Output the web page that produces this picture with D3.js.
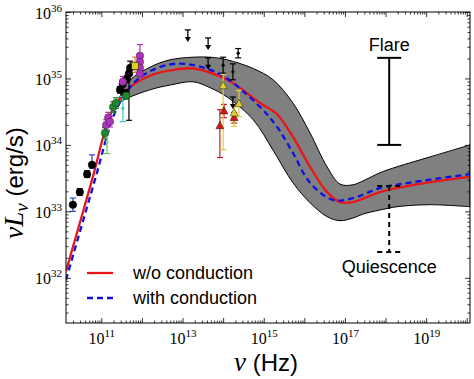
<!DOCTYPE html>
<html><head><meta charset="utf-8">
<script src="https://cdn.jsdelivr.net/npm/d3@7"></script>
<style>body{margin:0;background:#fff}svg{display:block}</style>
</head><body><svg id="c" width="474" height="379"></svg>
<script>
// ---- data (log10 values) ----
const redLogNu  = [10.13, 10.77, 11.21, 11.46, 11.71, 12.20, 12.69, 13.26, 14.10, 14.91, 15.33, 15.72, 16.14, 16.56, 16.88, 17.20, 17.86, 18.28, 19.10, 20.08];
const redLogL   = [32.10, 33.47, 34.44, 34.70, 34.87, 35.04, 35.12, 35.15, 34.98, 34.63, 34.46, 34.12, 33.67, 33.29, 33.14, 33.14, 33.29, 33.35, 33.44, 33.52];
const blueLogNu = [10.13, 10.84, 11.29, 11.53, 11.83, 12.20, 12.69, 13.06, 13.68, 14.10, 14.91, 15.33, 15.72, 16.14, 16.71, 17.20, 17.86, 18.68, 20.08];
const blueLogL  = [31.97, 33.47, 34.42, 34.71, 34.95, 35.11, 35.21, 35.22, 35.13, 35.00, 34.57, 34.27, 33.88, 33.43, 33.17, 33.20, 33.35, 33.44, 33.56];
const bandLogNu = [11.40, 11.63, 12.20, 12.69, 13.26, 13.68, 14.10, 14.74, 15.23, 15.72, 16.14, 16.56, 16.88, 17.20, 17.45, 17.86, 18.28, 19.10, 20.08];
const bandUpper = [34.62, 34.93, 35.17, 35.28, 35.32, 35.32, 35.28, 35.15, 34.98, 34.63, 34.18, 33.67, 33.41, 33.40, 33.46, 33.58, 33.67, 33.82, 34.00];
const bandLower = [34.62, 34.70, 34.83, 34.90, 34.95, 34.86, 34.72, 34.38, 33.92, 33.43, 33.13, 32.92, 32.86, 32.90, 32.96, 33.02, 33.07, 33.10, 33.07];

// observed points: log nu, log L, +err, -err (dex), colour, errorbar colour, shape
const ptLogNu = [10.30, 10.47, 10.65, 10.77, 11.46, 11.53, 11.58, 11.63, 11.68, 11.71,
                 11.12, 11.17, 11.21, 11.53, 11.95, 11.95, 11.95, 11.95,
                 11.09, 11.29, 11.36, 11.61,
                 11.14, 11.53, 11.83,
                 14.00, 14.24, 14.37,
                 13.92, 14.02, 14.27,
                 14.00, 14.27, 14.39];
const ptLogL  = [33.10, 33.29, 33.56, 33.70, 34.83, 34.92, 34.78, 34.99, 35.07, 35.16,
                 34.30, 34.41, 34.35, 34.95, 35.34, 35.25, 35.16, 35.07,
                 34.18, 34.57, 34.63, 34.74,
                 34.05, 34.55, 35.19,
                 35.20, 35.10, 35.38,
                 34.29, 34.51, 34.41,
                 34.89, 34.48, 34.62];
const ptErrUp = [0.10, 0.05, 0.05, 0.15, 0.05, 0.05, 0.05, 0.05, 0.05, 0.10,
                 0.08, 0.08, 0.08, 0.08, 0.17, 0.05, 0.05, 0.05,
                 0.08, 0.08, 0.08, 0.05,
                 0.15, 0.18, 0.13,
                 0.12, 0.12, 0.07,
                 0.24, 0.10, 0.08,
                 0.17, 0.10, 0.20];
const ptErrDn = [0.10, 0.05, 0.05, 0.05, 0.05, 0.05, 0.05, 0.05, 0.70, 0.10,
                 0.08, 0.08, 0.08, 0.08, 0.05, 0.05, 0.05, 0.05,
                 0.08, 0.08, 0.08, 0.05,
                 0.18, 0.20, 0.10,
                 0.12, 0.12, 0.07,
                 0.48, 0.10, 0.08,
                 0.96, 0.20, 0.20];
const ptColor = ["#000","#000","#000","#000","#000","#000","#000","#000","#000","#000",
                 "#b030c0","#b030c0","#b030c0","#b030c0","#b030c0","#b030c0","#b030c0","#b030c0",
                 "#1a8a2a","#1a8a2a","#1a8a2a","#1a8a2a",
                 "#7ccf7c","#40c8c0","#d8d020",
                 "#000","#000","#000",
                 "#d01818","#d01818","#d01818",
                 "#e0d030","#e0d030","#e0d030"];
const ptErrColor = ["#3040d0","#000","#000","#3040d0","#000","#000","#000","#000","#000","#000",
                 "#b030c0","#b030c0","#b030c0","#b030c0","#b030c0","#b030c0","#b030c0","#b030c0",
                 "#1a8a2a","#1a8a2a","#1a8a2a","#1a8a2a",
                 "#60c060","#40c8c0","#e08020",
                 "#000","#000","#000",
                 "#d01818","#d01818","#d01818",
                 "#d8d040","#d8d040","#d8d040"];
const ptShape = ["c","c","c","c","c","c","c","c","c","c",
                 "c","c","c","c","c","c","c","c",
                 "c","c","c","c",
                 "d","d","s",
                 "d","d","d",
                 "t","t","t",
                 "t","t","t"];
// upper limits
const ulLogNu = [13.13, 13.63, 13.63, 14.24];
const ulLogL  = [35.73, 35.61, 35.31, 34.72];

// variability bars
const barLogNu = 18.09;
const flareRange = [34.00, 35.31];
const quiesRange = [32.39, 33.38];

const xMajor = [11,12,13,14,15,16,17,18,19,20];
const xLabels = [11,13,15,17,19];
const yMajor = [32,33,34,35,36];
const yLabels = [32,33,34,35,36];
const legendLabels = ["w/o conduction", "with conduction"];

// ---- chart ----
const P = v => Math.pow(10, v);
const L = 66, R = 470, T = 12, B = 323;
const x = d3.scaleLog().domain([P(10.13), P(20.08)]).range([L, R]);
const y = d3.scaleLog().domain([P(31.32), P(36)]).range([B, T]);
const svg = d3.select("#c");

svg.append("clipPath").attr("id","pc").append("rect")
  .attr("x",L).attr("y",T).attr("width",R-L).attr("height",B-T);
const g = svg.append("g").attr("clip-path","url(#pc)");

const crv = d3.curveCatmullRom.alpha(0.5);
// band
const band = d3.area().x((d,i)=>x(P(bandLogNu[i]))).y0((d,i)=>y(P(bandLower[i]))).y1((d,i)=>y(P(bandUpper[i]))).curve(crv);
g.append("path").datum(bandLogNu).attr("d", band).attr("fill","#808080").attr("stroke","#000").attr("stroke-width",1);

// curves
const line = (xs, ys) => d3.line().x((d,i)=>x(P(xs[i]))).y((d,i)=>y(P(ys[i]))).curve(crv)(xs);
g.append("path").attr("d", line(redLogNu, redLogL)).attr("fill","none").attr("stroke","#e8161b").attr("stroke-width",2.3);
g.append("path").attr("d", line(blueLogNu, blueLogL)).attr("fill","none").attr("stroke","#1010e0").attr("stroke-width",2.3).attr("stroke-dasharray","6,4");

// points
const pts = ptLogNu.map((v,i)=>({nu:P(v), l:P(ptLogL[i]), up:P(ptLogL[i]+ptErrUp[i]), dn:P(ptLogL[i]-ptErrDn[i]), c:ptColor[i], ec:ptErrColor[i], s:ptShape[i]}));
const pg = g.append("g");
pts.forEach(p=>{
  const px = x(p.nu), yu = y(p.up), yd = y(p.dn);
  pg.append("line").attr("x1",px).attr("x2",px).attr("y1",yu).attr("y2",yd).attr("stroke",p.ec).attr("stroke-width",1.2);
  [yu,yd].forEach(yy=>pg.append("line").attr("x1",px-3).attr("x2",px+3).attr("y1",yy).attr("y2",yy).attr("stroke",p.ec).attr("stroke-width",1.2));
});
pts.forEach(p=>{
  const px = x(p.nu), py = y(p.l);
  if (p.s==="c") pg.append("circle").attr("cx",px).attr("cy",py).attr("r",3.8).attr("fill",p.c).attr("stroke",p.c==="#000"?"#000":"#333").attr("stroke-width",0.5);
  else if (p.s==="s") pg.append("rect").attr("x",px-3.5).attr("y",py-3.5).attr("width",7).attr("height",7).attr("fill",p.c).attr("stroke","#000").attr("stroke-width",0.5);
  else if (p.s==="t") pg.append("path").attr("d",`M${px},${py-4.5}L${px+4},${py+3}L${px-4},${py+3}Z`).attr("fill",p.c).attr("stroke","#000").attr("stroke-width",0.4);
  else pg.append("circle").attr("cx",px).attr("cy",py).attr("r",1.6).attr("fill",p.c);
});
// upper limits
ulLogNu.forEach((v,i)=>{
  const px = x(P(v)), py = y(P(ulLogL[i]));
  pg.append("line").attr("x1",px-3).attr("x2",px+3).attr("y1",py).attr("y2",py).attr("stroke","#000").attr("stroke-width",1.3);
  pg.append("line").attr("x1",px).attr("x2",px).attr("y1",py).attr("y2",py+9).attr("stroke","#000").attr("stroke-width",1.3);
  pg.append("path").attr("d",`M${px-3},${py+7}L${px+3},${py+7}L${px},${py+12}Z`).attr("fill","#000");
});

// flare / quiescence bars
const bx = x(P(barLogNu));
function vbar(r, dash){
  const y1 = y(P(r[1])), y0 = y(P(r[0]));
  const l1 = svg.append("line").attr("x1",bx).attr("x2",bx).attr("y1",y1).attr("y2",y0);
  const c1 = svg.append("line").attr("x1",bx-12).attr("x2",bx+12).attr("y1",y1).attr("y2",y1);
  const c2 = svg.append("line").attr("x1",bx-12).attr("x2",bx+12).attr("y1",y0).attr("y2",y0);
  [l1,c1,c2].forEach(s=>{s.attr("stroke","#000").attr("stroke-width",2); if(dash) s.attr("stroke-dasharray","5,4");});
}
vbar(flareRange,false);
vbar(quiesRange,true);
const sans = "Liberation Sans, Arial, sans-serif";
svg.append("text").attr("x",bx).attr("y",y(P(flareRange[1]))-7).attr("text-anchor","middle")
  .attr("font-family",sans).attr("font-size",18).text("Flare");
svg.append("text").attr("x",bx).attr("y",y(P(quiesRange[0]))+21).attr("text-anchor","middle")
  .attr("font-family",sans).attr("font-size",18).text("Quiescence");

// axes (inward ticks on all sides)
const xMinor = [], yMinor = [];
for (let n=10;n<=20;n++) for (let k=2;k<=9;k++){const v=k*P(n); if(v>x.domain()[0]&&v<x.domain()[1]) xMinor.push(v);}
for (let n=31;n<=35;n++) for (let k=2;k<=9;k++){const v=k*P(n); if(v>y.domain()[0]&&v<y.domain()[1]) yMinor.push(v);}
const xm = xMajor.map(P), ym = yMajor.map(P);
function ax(axisFn, scale, vals, size, tr){
  const a = axisFn(scale).tickValues(vals).tickSizeInner(-size).tickSizeOuter(0).tickFormat("");
  const gg = svg.append("g").attr("transform",tr).call(a);
  gg.select(".domain").remove();
  gg.selectAll(".tick line").attr("stroke","#000").attr("stroke-width",0.8);
  return gg;
}
ax(d3.axisBottom, x, xMinor, 2.5, `translate(0,${B})`);
ax(d3.axisTop, x, xMinor, 2.5, `translate(0,${T})`);
ax(d3.axisLeft, y, yMinor, 2.5, `translate(${L},0)`);
ax(d3.axisRight, y, yMinor, 2.5, `translate(${R},0)`);
const gb = ax(d3.axisBottom, x, xm, 5, `translate(0,${B})`);
ax(d3.axisTop, x, xm, 5, `translate(0,${T})`);
const gl = ax(d3.axisLeft, y, ym, 5, `translate(${L},0)`);
ax(d3.axisRight, y, ym, 5, `translate(${R},0)`);

// tick labels 10^n
const serif = "Liberation Serif, Times New Roman, serif";
gb.selectAll(".tick").each(function(d){
  const n = Math.round(Math.log10(d));
  const t = d3.select(this).select("text");
  if (!xLabels.includes(n)) { t.remove(); return; }
  t.attr("y", 0).attr("dy", 0).attr("transform","translate(0,21)").attr("fill","#000")
   .attr("font-family",serif).attr("font-size",16).attr("text-anchor","middle");
  t.append("tspan").text("10");
  t.append("tspan").attr("dy",-7).attr("font-size",11).text(n);
});
gl.selectAll(".tick").each(function(d){
  const n = Math.round(Math.log10(d));
  const t = d3.select(this).select("text");
  if (!yLabels.includes(n)) { t.remove(); return; }
  t.attr("x", -4).attr("dy", 0).attr("y",6).attr("fill","#000")
   .attr("font-family",serif).attr("font-size",16).attr("text-anchor","end");
  t.append("tspan").text("10");
  t.append("tspan").attr("dy",-7).attr("font-size",11).text(n);
});

// frame
svg.append("rect").attr("x",L).attr("y",T).attr("width",R-L).attr("height",B-T)
  .attr("fill","none").attr("stroke","#000").attr("stroke-width",1);

// legend
[[273,"#e8161b",null],[298,"#1010e0","6,4"]].forEach((r,i)=>{
  const ln = svg.append("line").attr("x1",87).attr("x2",113).attr("y1",r[0]).attr("y2",r[0]).attr("stroke",r[1]).attr("stroke-width",2.3);
  if (r[2]) ln.attr("stroke-dasharray",r[2]);
  svg.append("text").attr("x",133).attr("y",r[0]+6).attr("font-family",sans).attr("font-size",18).text(legendLabels[i]);
});

// axis labels
const xl = svg.append("text").attr("x",266).attr("y",371).attr("text-anchor","middle").attr("font-size",24).attr("font-family",sans);
xl.append("tspan").attr("font-family",serif).attr("font-style","italic").attr("font-size",27).text("ν");
xl.append("tspan").text(" (Hz)");
const yl = svg.append("text").attr("transform","translate(23,183) rotate(-90)").attr("text-anchor","middle").attr("font-size",24).attr("font-family",sans);
yl.append("tspan").attr("font-family",serif).attr("font-style","italic").attr("font-size",27).text("νL");
yl.append("tspan").attr("font-family",serif).attr("font-style","italic").attr("font-size",19).attr("dy",5).text("ν");
yl.append("tspan").attr("dy",-5).text(" (erg/s)");
</script></body></html>
